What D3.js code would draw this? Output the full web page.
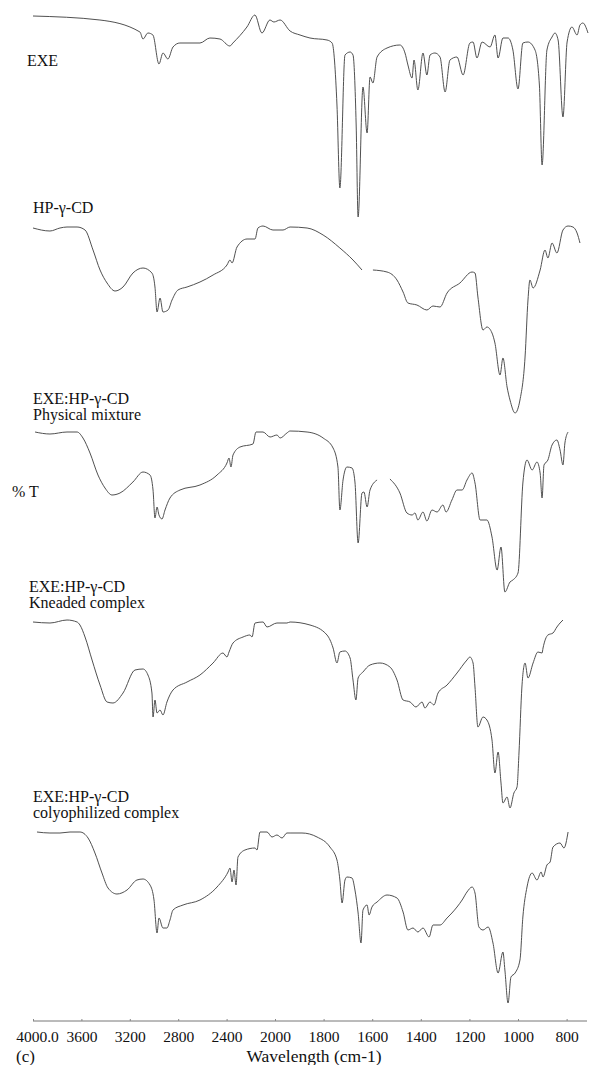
<!DOCTYPE html>
<html>
<head>
<meta charset="utf-8">
<script src="https://cdn.jsdelivr.net/npm/d3@7"></script>
<style>
  html, body { margin: 0; padding: 0; background: #fff; }
  svg { display: block; }
  text { font-family: "Liberation Serif", "Times New Roman", serif; fill: #111; }
</style>
</head>
<body>
<svg id="chart" width="589" height="1065"></svg>
<script>
// FTIR spectra, [wavenumber (cm-1), relative %T]
const exeSpectrum = [
  [4000,104.5],[3447,102.5],[3116,96.5],[3091,93],[3050,96],[3009,95],[2959,80.5],[2926,86],
  [2885,83],[2843,89],[2786,91],[2620,91],[2538,93.5],[2455,93],[2373,89.5],[2348,91],
  [2232,99],[2166,105],[2108,96],[2042,102.5],[2009,101.5],[1979,102.5],[1938,97],[1897,95],
  [1856,93.5],[1786,92.5],[1765,91],[1745,60],[1733,18.5],[1712,85],[1691,86.5],[1679,85],
  [1666,50],[1658,4],[1638,69],[1621,46],[1609,74],[1597,71],[1580,84],[1539,88.5],
  [1486,90],[1465,86],[1453,80],[1436,73.5],[1428,82.5],[1412,67.5],[1391,86],[1375,75],
  [1362,85],[1342,86],[1321,84],[1300,66.5],[1280,82.5],[1251,84],[1226,75],[1198,91],
  [1185,91.5],[1169,83.5],[1148,91.5],[1115,89],[1095,95],[1082,83.5],[1062,93.5],[1041,93.5],
  [1021,87.5],[1000,68],[980,91],[959,91.5],[930,87.5],[912,70],[901,30],[881,87.5],
  [860,94],[848,96],[835,92.5],[815,54],[798,91.5],[778,99],[757,95],[745,100],
  [733,101],[712,96]
];
const hpgcdSpectrum = [
  [4000,93.5],[3860,92],[3777,93.5],[3719,94],[3636,94],[3570,92.5],[3504,82.5],[3446,72.5],
  [3388,66],[3322,62],[3256,64],[3174,71],[3091,73.5],[3017,71],[2992,64],[2975,51.5],
  [2950,58.5],[2926,51.5],[2884,52.5],[2851,57.5],[2802,62.5],[2727,64],[2620,66.5],[2512,70],
  [2397,75],[2372,77.5],[2355,76],[2314,84],[2231,88],[2165,88],[2141,93.5],[2099,94.5],
  [2017,92.5],[1967,92.5],[1938,94],[1868,93.5],[1802,90],[1733,83.5],[1679,77.5],[1642,72.5],
  [1625,null],[1597,72.5],[1539,71.5],[1498,67.5],[1473,61.5],[1453,56],[1416,55],[1375,52.5],
  [1350,54.5],[1321,54],[1292,61],[1239,66],[1189,71.5],[1177,71],[1165,59],[1144,42.5],
  [1128,44],[1107,41],[1095,36],[1074,20],[1062,28.5],[1045,14],[1033,7.5],[1012,1],
  [992,7.5],[971,29],[959,57.5],[951,67.5],[938,63.5],[909,72.5],[889,82.5],[877,78.5],
  [860,86],[840,81],[815,92.5],[794,94.5],[774,94],[757,91],[745,86]
];
const physicalMixture = [
  [3983,81.5],[3860,80.5],[3719,81.5],[3636,81.5],[3587,78.5],[3529,71],[3463,60],[3405,53.5],
  [3347,50],[3281,51],[3174,56.5],[3091,61.5],[3033,60],[3008,52.5],[2992,38.5],[2975,44],
  [2959,40],[2934,38],[2909,42.5],[2868,48.5],[2785,52.5],[2620,55],[2479,60],[2397,66],
  [2380,68.5],[2364,64],[2347,70],[2289,74],[2182,75.5],[2157,81.5],[2099,81.5],[2041,79],
  [1992,80],[1979,78.5],[1951,81],[1938,82],[1868,81.5],[1802,78.5],[1761,73.5],[1741,64],
  [1733,42.5],[1720,57.5],[1704,64],[1683,63.5],[1671,56.5],[1658,26],[1642,51],[1634,51.5],
  [1621,44],[1609,52.5],[1580,57.5],[1555,null],[1527,58],[1486,51],[1457,41],[1436,40],
  [1424,41],[1412,37.5],[1391,41.5],[1375,37],[1354,42.5],[1333,41.5],[1309,45],[1296,41.5],
  [1272,47.5],[1251,52.5],[1230,52.5],[1210,57.5],[1189,61],[1177,56],[1156,37.5],[1128,37.5],
  [1107,29],[1086,12.5],[1070,24],[1054,1.5],[1033,6.5],[1021,7.5],[1000,11],[980,56],
  [963,67.5],[942,62.5],[922,66.5],[909,61],[901,48.5],[893,65],[877,67.5],[860,75],
  [840,77.5],[827,72.5],[815,65],[807,76],[794,81.5]
];
const kneadedComplex = [
  [4000,96.5],[3860,96],[3719,97.5],[3636,96.5],[3612,95],[3570,89],[3512,77.5],[3446,65],
  [3388,56.5],[3339,56],[3256,61],[3157,72.5],[3091,73],[3050,70],[3017,61],[3008,49],
  [2992,57.5],[2975,51],[2950,52.5],[2926,50],[2893,56.5],[2843,62.5],[2727,66.5],[2620,70],
  [2512,76],[2430,81],[2397,79],[2380,81.5],[2347,86],[2264,89],[2207,90],[2190,89],
  [2165,96],[2099,96.5],[2066,94],[1992,96],[1951,96],[1938,96.5],[1856,95],[1786,90],
  [1761,83.5],[1745,76],[1733,81.5],[1712,82],[1691,78.5],[1679,67.5],[1667,57.5],[1658,68.5],
  [1638,71.5],[1609,75],[1568,76],[1527,74],[1498,67.5],[1473,57.5],[1444,56.5],[1420,54],
  [1395,56.5],[1383,53.5],[1362,56.5],[1346,55],[1329,61],[1292,65],[1251,71],[1210,77.5],
  [1198,79],[1185,76],[1177,64],[1165,44],[1144,49],[1128,47.5],[1107,37.5],[1095,21],
  [1082,31.5],[1070,16],[1062,6],[1045,9],[1033,3.5],[1017,11],[1004,14],[996,31],
  [984,64],[971,76],[959,68.5],[938,76],[918,81.5],[901,81],[897,83.5],[877,90],
  [856,91],[840,94],[827,96],[815,97.5]
];
const colyophilizedComplex = [
  [3967,91.5],[3860,91],[3777,91],[3694,91.5],[3612,91.5],[3545,88.5],[3488,81],[3430,71],
  [3380,63.5],[3306,60.5],[3223,62.5],[3141,67.5],[3091,68],[3033,65],[3000,57.5],[2975,41],
  [2959,48.5],[2926,43.5],[2893,43.5],[2868,47.5],[2843,52.5],[2760,55],[2620,57.5],[2479,64],
  [2388,71.5],[2372,73.5],[2355,66.5],[2339,72.5],[2322,65],[2306,79],[2248,82.5],[2165,83.5],
  [2149,82.5],[2124,91.5],[2066,91.5],[2025,89],[1992,90],[1971,88.5],[1951,91],[1938,91],
  [1889,91],[1827,89],[1774,84],[1745,77.5],[1733,67.5],[1724,56],[1712,67.5],[1704,69],
  [1683,68.5],[1671,62.5],[1658,51],[1646,36],[1638,52.5],[1621,55],[1613,50],[1601,54],
  [1580,56.5],[1539,60],[1498,58.5],[1473,51.5],[1453,42.5],[1432,43.5],[1412,41.5],[1391,43.5],
  [1366,39],[1350,45],[1321,45],[1292,48.5],[1272,51],[1251,54],[1230,57.5],[1210,61.5],
  [1189,64],[1177,61],[1161,44],[1144,42.5],[1123,44],[1103,36],[1082,21],[1062,31.5],
  [1054,22.5],[1041,6],[1029,19],[1012,21],[992,27.5],[980,49],[963,64],[942,71],
  [922,67.5],[905,71.5],[897,69],[881,75],[868,76.5],[856,84],[827,86],[811,83.5],
  [794,91.5]
];

const seriesNames = ["EXE", "HP-γ-CD", "EXE:HP-γ-CD", "EXE:HP-γ-CD", "EXE:HP-γ-CD"];
const seriesSubNames = ["", "", "Physical mixture", "Kneaded complex", "colyophilized complex"];
const seriesData = [exeSpectrum, hpgcdSpectrum, physicalMixture, kneadedComplex, colyophilizedComplex];
// vertical stacking offset of each trace, in %T units
const seriesOffsets = [395, 300, 210, 100, 0];

const tickValues = [4000, 3600, 3200, 2800, 2400, 2000, 1800, 1600, 1400, 1200, 1000, 800];
const tickLabels = ["4000.0", "3600", "3200", "2800", "2400", "2000", "1800", "1600", "1400", "1200", "1000", "800"];

const svg = d3.select("#chart");

// the wavenumber axis changes scale at 2000 cm-1
const x = d3.scaleLinear().domain([4000, 2000, 712]).range([33, 275, 588]);
const y = d3.scaleLinear().domain([0, 500]).range([1015, 15]);

const labelPos = [
  { x: 27, y: 66 },
  { x: 33, y: 213 },
  { x: 33, y: 404 },
  { x: 29, y: 592 },
  { x: 33, y: 802 }
];
const subDy = [0, 0, 16, 16, 16];

seriesData.forEach((data, i) => {
  const off = seriesOffsets[i];
  const line = d3.line()
    .defined(d => d[1] !== null)
    .curve(d3.curveMonotoneX)
    .x(d => x(d[0]))
    .y(d => y(d[1] + off));
  svg.append("path")
    .datum(data)
    .attr("d", line)
    .attr("fill", "none")
    .attr("stroke", "#474747")
    .attr("stroke-width", 0.95)
    .attr("stroke-linejoin", "round");

  // label: name, with an optional second line
  const t = svg.append("text")
    .attr("x", labelPos[i].x)
    .attr("y", labelPos[i].y)
    .style("font-size", "16px");
  t.append("tspan").text(seriesNames[i]);
  if (seriesSubNames[i]) {
    t.append("tspan")
      .attr("x", labelPos[i].x)
      .attr("dy", subDy[i])
      .text(seriesSubNames[i]);
  }
});

// bottom axis
const axis = d3.axisBottom(x)
  .tickValues(tickValues)
  .tickFormat((d, i) => tickLabels[i])
  .tickSizeInner(-2)
  .tickSizeOuter(0)
  .tickPadding(10);

const gAxis = svg.append("g")
  .attr("transform", "translate(0,1021)")
  .call(axis);
gAxis.select(".domain").attr("stroke", "#777").attr("d", "M33,0H587");
gAxis.selectAll(".tick line").attr("stroke", "#888");
gAxis.selectAll(".tick text")
  .style("font-family", "'Liberation Serif', serif")
  .style("font-size", "15.5px")
  .attr("fill", "#111")
  .attr("dx", (d, i) => i === 0 ? 4 : 0);

svg.append("text")
  .attr("x", 12).attr("y", 497)
  .style("font-size", "16px")
  .text("% T");

svg.append("text")
  .attr("x", 16).attr("y", 1062)
  .style("font-size", "17px")
  .text("(c)");

svg.append("text")
  .attr("x", 314).attr("y", 1062)
  .attr("text-anchor", "middle")
  .style("font-size", "17.5px")
  .text("Wavelength (cm-1)");
</script>
</body>
</html>
